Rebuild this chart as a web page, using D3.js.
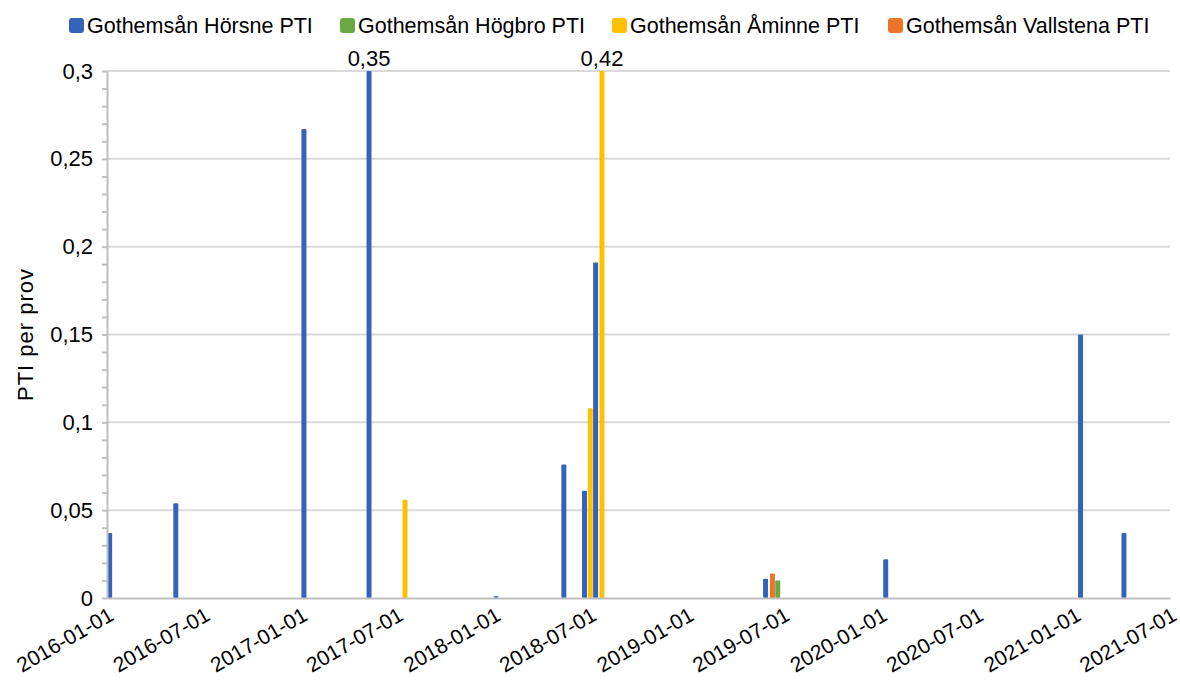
<!DOCTYPE html>
<html lang="sv">
<head>
<meta charset="utf-8">
<script src="https://cdn.jsdelivr.net/npm/d3@7"></script>
<style>
  body { margin: 0; background: #fff; }
  text { font-family: "Liberation Sans", Arial, sans-serif; fill: #000; }
  .axis path, .axis line { stroke: #bfbfbf; stroke-width: 2; }
</style>
</head>
<body>
<script>
// series names + colours
const seriesNames = ["Gothemsån Hörsne PTI", "Gothemsån Högbro PTI", "Gothemsån Åminne PTI", "Gothemsån Vallstena PTI"];
const seriesColors = ["#3563bb", "#6aa843", "#ffc000", "#eb7429"];

// sample dates and values
const horsneDates  = ["2016-01-06", "2016-05-10", "2017-01-07", "2017-05-10", "2018-01-05", "2018-05-13", "2018-06-21", "2018-07-12", "2019-05-29", "2020-01-11", "2021-01-13", "2021-04-05"];
const horsneValues = [0.037, 0.054, 0.267, 0.35, 0.001, 0.076, 0.061, 0.191, 0.011, 0.022, 0.150, 0.037];
const hogbroDates  = ["2019-06-21"];
const hogbroValues = [0.010];
const aminneDates  = ["2017-07-17", "2018-07-02", "2018-07-24"];
const aminneValues = [0.056, 0.108, 0.42];
const vallstenaDates  = ["2019-06-11"];
const vallstenaValues = [0.014];

const yTicks = [0, 0.05, 0.1, 0.15, 0.2, 0.25, 0.3];
const xStart = "2016-01-01", xEnd = "2021-07-01";

const parse = d3.utcParse("%Y-%m-%d");
const allSeries = [
  [horsneDates, horsneValues],
  [hogbroDates, hogbroValues],
  [aminneDates, aminneValues],
  [vallstenaDates, vallstenaValues]
];
let bars = [];
allSeries.forEach((s, i) => {
  s[0].forEach((d, j) => bars.push({ date: parse(d), value: s[1][j], series: i }));
});

const w = 1180, h = 686;
const mLeft = 107, mRight = 1170, mTop = 71, mBottom = 598;
const barW = 5;

const svg = d3.select("body").append("svg").attr("width", w).attr("height", h);

const x = d3.scaleUtc().domain([parse(xStart), parse(xEnd)]).range([mLeft, mRight]);
const y = d3.scaleLinear().domain([0, 0.3]).range([mBottom, mTop]).clamp(true);

// gridlines
svg.append("g").selectAll("line")
  .data(yTicks.slice(1))
  .enter().append("line")
  .attr("x1", mLeft).attr("x2", mRight)
  .attr("y1", d => y(d)).attr("y2", d => y(d))
  .attr("stroke", "#d9d9d9").attr("stroke-width", 2);

// bars
svg.append("g").selectAll("rect")
  .data(bars)
  .enter().append("rect")
  .attr("x", d => x(d.date) - barW / 2)
  .attr("y", d => y(d.value))
  .attr("width", barW)
  .attr("height", d => y(0) - y(d.value))
  .attr("rx", 1)
  .attr("fill", d => seriesColors[d.series]);

// labels for bars cut off by the axis max
svg.append("g").selectAll("text")
  .data(bars.filter(d => d.value > 0.3))
  .enter().append("text")
  .attr("x", d => x(d.date))
  .attr("y", mTop - 5)
  .attr("text-anchor", "middle")
  .attr("font-size", "22px")
  .text(d => d3.format(".2f")(d.value).replace(".", ","));

// x axis
const xAxis = svg.append("g")
  .attr("class", "axis")
  .attr("transform", "translate(0," + mBottom + ")")
  .call(d3.axisBottom(x).ticks(d3.utcMonth.every(6)).tickFormat(d3.utcFormat("%Y-%m-%d")).tickSize(0).tickSizeOuter(0));
xAxis.selectAll("text")
  .attr("font-size", "21px")
  .attr("text-anchor", "end")
  .attr("dy", "0")
  .attr("transform", "translate(0,8) rotate(-30)")
  .attr("y", 0).attr("x", 0)
  .attr("dominant-baseline", "hanging");

// y axis: minor ticks + labels
svg.append("g")
  .attr("class", "axis")
  .attr("transform", "translate(" + mLeft + ",0)")
  .call(d3.axisLeft(y).tickValues(d3.range(0, 31).map(i => i / 100)).tickSize(5).tickFormat("").tickSizeOuter(0));
const yAxis = svg.append("g")
  .attr("class", "axis")
  .attr("transform", "translate(" + mLeft + ",0)")
  .call(d3.axisLeft(y).tickValues(yTicks).tickSize(0).tickPadding(14)
    .tickFormat(d => String(+d.toFixed(2)).replace(".", ",")));
yAxis.select(".domain").remove();
yAxis.selectAll("text").attr("font-size", "22px");

// y title
svg.append("text")
  .attr("transform", "translate(33," + ((mTop + mBottom) / 2) + ") rotate(-90)")
  .attr("text-anchor", "middle")
  .attr("font-size", "22px")
  .attr("letter-spacing", "1")
  .text("PTI per prov");

// legend
const legendX = [69, 340, 612, 888];
const legend = svg.append("g").selectAll("g")
  .data(seriesNames)
  .enter().append("g")
  .attr("transform", (d, i) => "translate(" + legendX[i] + ",18)");
legend.append("rect")
  .attr("width", 15).attr("height", 15).attr("rx", 3)
  .attr("fill", (d, i) => seriesColors[i]);
legend.append("text")
  .attr("x", 18).attr("y", 15)
  .attr("font-size", "21.5px")
  .text(d => d);
</script>
</body>
</html>
